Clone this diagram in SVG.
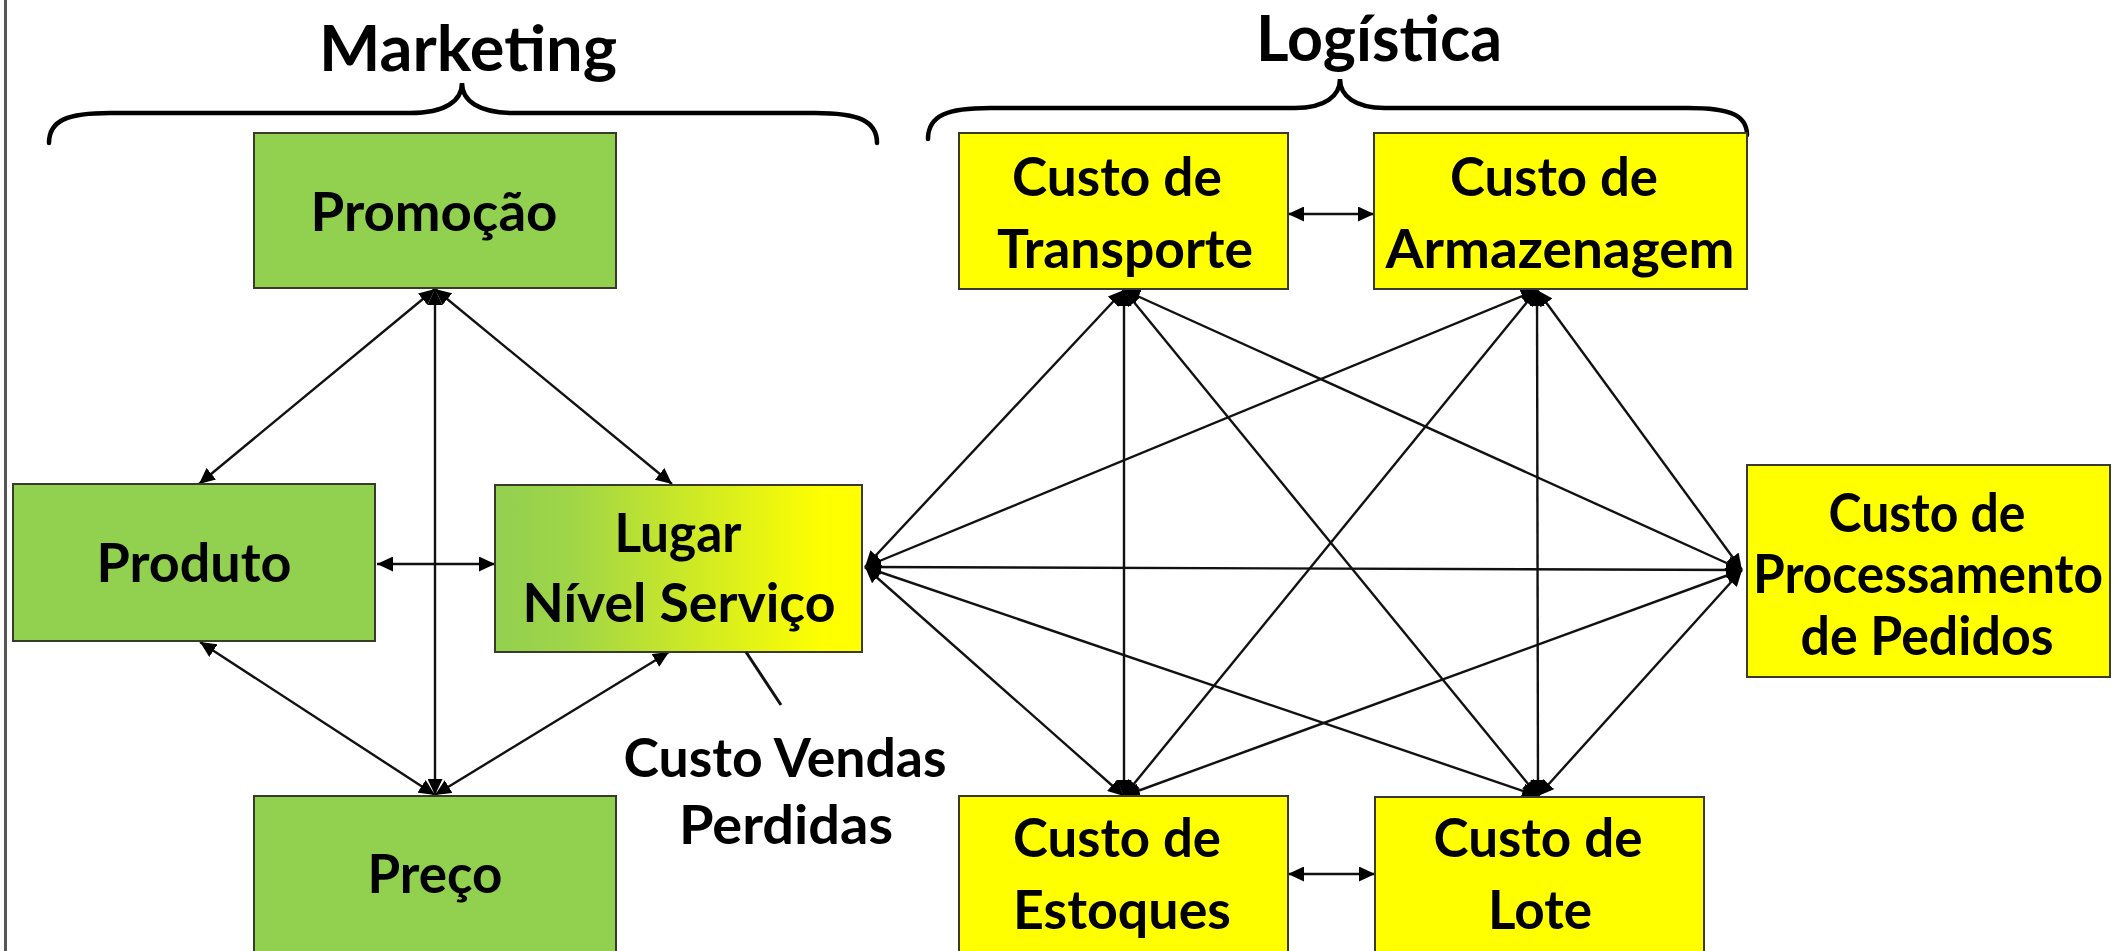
<svg xmlns="http://www.w3.org/2000/svg" width="2122" height="951" viewBox="0 0 2122 951">
  <style>
    .box { stroke: #3a3a2a; stroke-width: 2; }
    .green { fill: #92D050; }
    .yellow { fill: #FFFF00; }
    .lbl { font-family: Lato, "Open Sans", "Liberation Sans", sans-serif; font-weight: bold; font-size: 54px; fill: #000; text-anchor: middle; }
    .title { font-family: Lato, "Open Sans", "Liberation Sans", sans-serif; font-weight: bold; font-size: 64px; fill: #000; text-anchor: middle; }
    .conn line { stroke: #111; stroke-width: 2.4; marker-start: url(#ah); marker-end: url(#ah); }
    .brace { fill: none; stroke: #000; stroke-width: 4.5; stroke-linecap: round; }
  </style>
  <defs>
    <marker id="ah" markerUnits="userSpaceOnUse" viewBox="0 0 16 15" markerWidth="16" markerHeight="15" refX="16" refY="7.5" orient="auto-start-reverse">
      <path d="M0,0 L16,7.5 L0,15 Z" fill="#000"/>
    </marker>
    <linearGradient id="gy" x1="0" y1="0" x2="1" y2="0">
      <stop offset="0" stop-color="#92D050"/>
      <stop offset="0.2" stop-color="#9FD548"/>
      <stop offset="0.9" stop-color="#FFFF00"/>
      <stop offset="1" stop-color="#FFFF00"/>
    </linearGradient>
  </defs>
  <rect x="0" y="0" width="2122" height="951" fill="#fff"/>
  <line x1="5.5" y1="0" x2="5.5" y2="951" stroke="#555" stroke-width="3"/>

  <g id="marketing-header">
    <path class="brace" d="M49,143 C49,120 68,113 110,113 L410,113 C445,113 462,101 462,83 C462,101 479,113 514,113 L815,113 C857,113 877,120 877,143"/>
    <text class="title" x="468" y="71" textLength="298" lengthAdjust="spacingAndGlyphs">Marketing</text>
  </g>
  <g id="logistica-header">
    <path class="brace" d="M928,139 C928,115 948,108 990,108 L1295,108 C1325,108 1340,96 1340,79 C1340,96 1355,108 1385,108 L1688,108 C1730,108 1747,115 1747,135"/>
    <text class="title" x="1379" y="61" textLength="246" lengthAdjust="spacingAndGlyphs">Logística</text>
  </g>

  <g id="connectors" class="conn">
    <line x1="435" y1="289" x2="435" y2="795"/>
    <line x1="435" y1="289" x2="199" y2="484"/>
    <line x1="435" y1="289" x2="672" y2="484"/>
    <line x1="435" y1="795" x2="200" y2="642"/>
    <line x1="435" y1="795" x2="669" y2="652"/>
    <line x1="377" y1="564" x2="495" y2="564"/>
    <line x1="865" y1="567" x2="1124" y2="290"/>
    <line x1="865" y1="567" x2="1537" y2="290"/>
    <line x1="865" y1="567" x2="1742" y2="570"/>
    <line x1="865" y1="567" x2="1124" y2="796"/>
    <line x1="865" y1="567" x2="1538" y2="796"/>
    <line x1="1124" y1="290" x2="1124" y2="796"/>
    <line x1="1124" y1="290" x2="1538" y2="796"/>
    <line x1="1124" y1="290" x2="1742" y2="570"/>
    <line x1="1537" y1="290" x2="1124" y2="796"/>
    <line x1="1537" y1="290" x2="1538" y2="796"/>
    <line x1="1537" y1="290" x2="1742" y2="570"/>
    <line x1="1742" y1="570" x2="1124" y2="796"/>
    <line x1="1742" y1="570" x2="1538" y2="796"/>
    <line x1="1288" y1="214" x2="1374" y2="214"/>
    <line x1="1288" y1="874" x2="1375" y2="874"/>
  </g>

  <g id="promocao">
    <rect class="box green" x="254" y="133" width="362" height="155"/>
    <text class="lbl" x="434" y="231" textLength="247" lengthAdjust="spacingAndGlyphs">Promoção</text>
  </g>
  <g id="produto">
    <rect class="box green" x="13" y="484" width="362" height="157"/>
    <text class="lbl" x="194" y="582" textLength="195" lengthAdjust="spacingAndGlyphs">Produto</text>
  </g>
  <g id="lugar">
    <rect class="box" fill="url(#gy)" x="495" y="485" width="367" height="167"/>
    <text class="lbl" x="678" y="552" textLength="127" lengthAdjust="spacingAndGlyphs">Lugar</text>
    <text class="lbl" x="679" y="622" textLength="313" lengthAdjust="spacingAndGlyphs">Nível Serviço</text>
  </g>
  <g id="preco">
    <rect class="box green" x="254" y="796" width="362" height="170"/>
    <text class="lbl" x="435" y="893" textLength="135" lengthAdjust="spacingAndGlyphs">Preço</text>
  </g>
  <g id="custo-vendas-perdidas">
    <line x1="746" y1="652" x2="781" y2="705" stroke="#111" stroke-width="3"/>
    <text class="lbl" x="785" y="777" textLength="323" lengthAdjust="spacingAndGlyphs">Custo Vendas</text>
    <text class="lbl" x="786" y="844" textLength="214" lengthAdjust="spacingAndGlyphs">Perdidas</text>
  </g>

  <g id="transporte">
    <rect class="box yellow" x="959" y="133" width="329" height="156"/>
    <text class="lbl" x="1117" y="196" textLength="210" lengthAdjust="spacingAndGlyphs">Custo de</text>
    <text class="lbl" x="1125" y="268" textLength="256" lengthAdjust="spacingAndGlyphs">Transporte</text>
  </g>
  <g id="armazenagem">
    <rect class="box yellow" x="1374" y="133" width="373" height="156"/>
    <text class="lbl" x="1554" y="196" textLength="208" lengthAdjust="spacingAndGlyphs">Custo de</text>
    <text class="lbl" x="1560" y="268" textLength="349" lengthAdjust="spacingAndGlyphs">Armazenagem</text>
  </g>
  <g id="processamento">
    <rect class="box yellow" x="1747" y="465" width="363" height="212"/>
    <text class="lbl" x="1927" y="532" textLength="197" lengthAdjust="spacingAndGlyphs">Custo de</text>
    <text class="lbl" x="1928" y="593" textLength="350" lengthAdjust="spacingAndGlyphs">Processamento</text>
    <text class="lbl" x="1927" y="655" textLength="253" lengthAdjust="spacingAndGlyphs">de Pedidos</text>
  </g>
  <g id="estoques">
    <rect class="box yellow" x="959" y="796" width="329" height="170"/>
    <text class="lbl" x="1117" y="857" textLength="208" lengthAdjust="spacingAndGlyphs">Custo de</text>
    <text class="lbl" x="1122" y="929" textLength="218" lengthAdjust="spacingAndGlyphs">Estoques</text>
  </g>
  <g id="lote">
    <rect class="box yellow" x="1375" y="797" width="329" height="170"/>
    <text class="lbl" x="1538" y="857" textLength="209" lengthAdjust="spacingAndGlyphs">Custo de</text>
    <text class="lbl" x="1540" y="929" textLength="104" lengthAdjust="spacingAndGlyphs">Lote</text>
  </g>
</svg>
